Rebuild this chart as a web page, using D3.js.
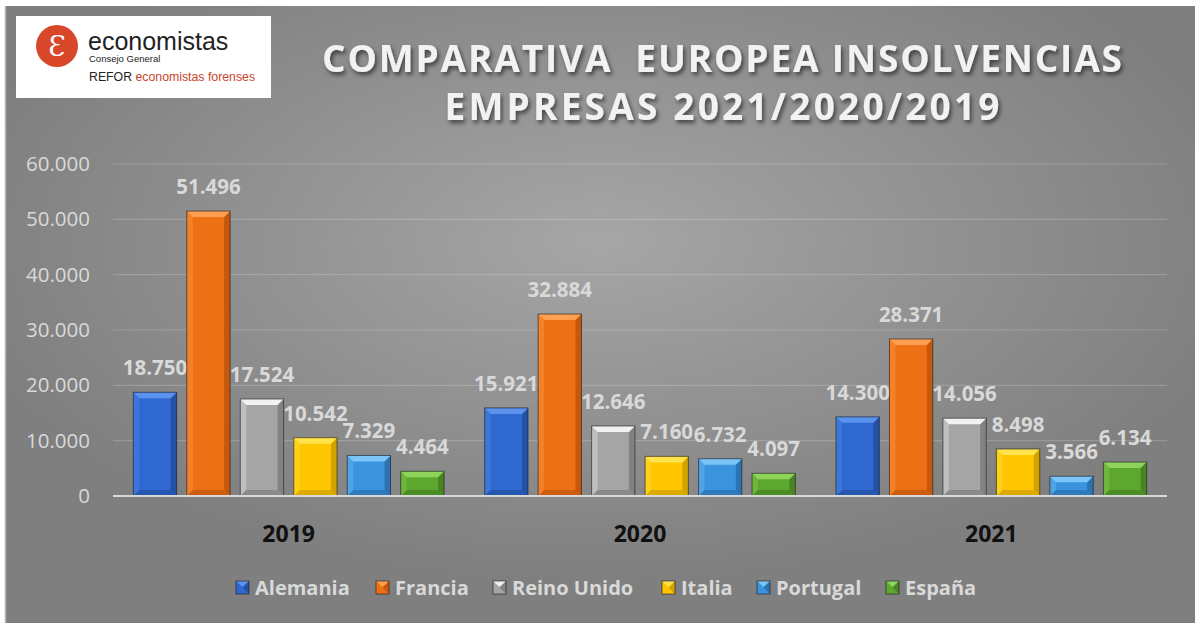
<!DOCTYPE html>
<html>
<head>
<meta charset="utf-8">
<script src="https://cdn.jsdelivr.net/npm/d3@7"></script>
<style>
  body { margin: 0; background: #fff; }
  svg { display: block; }
</style>
</head>
<body>
<div id="chart"></div>
<script>
// data
var years = ["2019", "2020", "2021"];
var countries = ["Alemania", "Francia", "Reino Unido", "Italia", "Portugal", "España"];
var alemania = [18750, 15921, 14300];
var francia = [51496, 32884, 28371];
var reino_unido = [17524, 12646, 14056];
var italia = [10542, 7160, 8498];
var portugal = [7329, 6732, 3566];
var espana = [4464, 4097, 6134];
var y_ticks = [0, 10000, 20000, 30000, 40000, 50000, 60000];

var series = [alemania, francia, reino_unido, italia, portugal, espana];

// colours: base, light (top bevel), dark (side bevel)
var bar_colors = [
    {base: "#2f68cf", light: "#5a92ee", dark: "#1d438a"},
    {base: "#ee7015", light: "#ffa050", dark: "#a94808"},
    {base: "#a5a5a5", light: "#f2f2f2", dark: "#6a6a6a"},
    {base: "#ffc600", light: "#ffe34d", dark: "#b48a00"},
    {base: "#3a93dc", light: "#7cc5f7", dark: "#215d92"},
    {base: "#5ea72f", light: "#8fd35a", dark: "#3a6e1b"}
];

var width = 1195;
var height = 623;

var svg = d3.select("#chart")
            .append("svg")
            .attr("width", width)
            .attr("height", height);

var defs = svg.append("defs");

var bg_grad = defs.append("radialGradient")
    .attr("id", "bg")
    .attr("cx", "50%").attr("cy", "38%").attr("r", "55%");
bg_grad.append("stop").attr("offset", "0%").attr("stop-color", "#a6a6a6");
bg_grad.append("stop").attr("offset", "100%").attr("stop-color", "#7f7f7f");

var shadow = defs.append("filter").attr("id", "shadow")
    .attr("x", "-5%").attr("y", "-20%").attr("width", "110%").attr("height", "150%");
shadow.append("feDropShadow")
    .attr("dx", 2).attr("dy", 3).attr("stdDeviation", 2)
    .attr("flood-color", "#000").attr("flood-opacity", 0.55);

// background
svg.append("rect")
    .attr("x", 5).attr("y", 6)
    .attr("width", width - 5).attr("height", height - 6)
    .attr("fill", "#7f7f7f");
svg.append("rect")
    .attr("x", 5).attr("y", 6)
    .attr("width", width - 5).attr("height", height - 6)
    .attr("fill", "url(#bg)");
svg.append("line")
    .attr("x1", 5.5).attr("x2", 5.5).attr("y1", 6).attr("y2", height)
    .attr("stroke", "#b5b5b5").attr("stroke-width", 1.5);

// logo
var logo = svg.append("g");
logo.append("rect")
    .attr("x", 16).attr("y", 16).attr("width", 255).attr("height", 82)
    .attr("fill", "#fff");
logo.append("circle")
    .attr("cx", 57).attr("cy", 46).attr("r", 21)
    .attr("fill", "#d9472b");
logo.append("text")
    .attr("x", 57).attr("y", 56)
    .attr("text-anchor", "middle")
    .attr("font-family", "DejaVu Serif")
    .attr("font-size", 28)
    .attr("fill", "#fff")
    .text("Ɛ");
logo.append("text")
    .attr("x", 88).attr("y", 50)
    .attr("font-family", "Liberation Sans")
    .attr("font-size", 25)
    .attr("fill", "#222")
    .text("economistas");
logo.append("text")
    .attr("x", 89).attr("y", 62)
    .attr("font-family", "Liberation Sans")
    .attr("font-size", 9.5)
    .attr("fill", "#222")
    .text("Consejo General");
var refor = logo.append("text")
    .attr("x", 89).attr("y", 81)
    .attr("font-family", "Liberation Sans")
    .attr("font-size", 12.3)
    .attr("fill", "#222");
refor.append("tspan").text("REFOR ");
refor.append("tspan").attr("fill", "#c8452e").text("economistas forenses");

// title
var title_lines = ["COMPARATIVA  EUROPEA INSOLVENCIAS", "EMPRESAS 2021/2020/2019"];
var title_widths = [800, 555];
svg.selectAll(".title")
    .data(title_lines)
    .enter()
    .append("text")
    .attr("class", "title")
    .attr("x", 722)
    .attr("y", function(d, i){ return 72 + i * 48; })
    .attr("text-anchor", "middle")
    .attr("font-family", "Open Sans")
    .attr("font-weight", "bold")
    .attr("font-size", 37)
    .attr("fill", "#f2f2f2")
    .attr("textLength", function(d, i){ return title_widths[i]; })
    .attr("lengthAdjust", "spacing")
    .attr("filter", "url(#shadow)")
    .style("white-space", "pre")
    .text(function(d){ return d; });

// scales
var x0 = d3.scaleBand()
    .domain(years)
    .range([113, 1167]);
var x1 = d3.scaleBand()
    .domain(d3.range(countries.length))
    .range([0, x0.bandwidth()])
    .paddingInner(0.19)
    .paddingOuter(0.38);
var y = d3.scaleLinear()
    .domain([0, 60000])
    .range([496, 164]);

var locale = d3.formatLocale({decimal: ",", thousands: ".", grouping: [3], currency: ["", "€"]});
var fmt = locale.format(",d");

// gridlines
svg.selectAll(".grid")
    .data(y_ticks.slice(1))
    .enter()
    .append("line")
    .attr("x1", 113).attr("x2", 1167)
    .attr("y1", function(d){ return y(d); })
    .attr("y2", function(d){ return y(d); })
    .attr("stroke", "#ffffff")
    .attr("stroke-opacity", 0.18)
    .attr("stroke-width", 1.2);

// y axis labels
var y_axis = svg.append("g")
    .attr("transform", "translate(90,0)")
    .call(d3.axisLeft(y).tickValues(y_ticks).tickFormat(fmt).tickSize(0).tickPadding(0));
y_axis.select(".domain").remove();
y_axis.selectAll("text")
    .attr("font-family", "Open Sans")
    .attr("font-size", 20.5)
    .attr("fill", "#d9d9d9");

// bars
var bevel = 6;
function bar_parts(x, top, w, bottom) {
    var b = Math.min(bevel, (bottom - top) / 2, w / 2);
    var r = x + w;
    return {
        top: [[x, top], [r, top], [r - b, top + b], [x + b, top + b]],
        left: [[x, top], [x + b, top + b], [x + b, bottom - b], [x, bottom]],
        right: [[r, top], [r, bottom], [r - b, bottom - b], [r - b, top + b]],
        bottom: [[x, bottom], [x + b, bottom - b], [r - b, bottom - b], [r, bottom]]
    };
}

var groups = svg.selectAll(".year")
    .data(years)
    .enter()
    .append("g")
    .attr("class", "year")
    .attr("transform", function(d){ return "translate(" + x0(d) + ",0)"; });

var bars = groups.selectAll(".bar")
    .data(function(d, yi){
        return series.map(function(s, ci){ return {ci: ci, value: s[yi]}; });
    })
    .enter()
    .append("g")
    .attr("class", "bar");

bars.each(function(d){
    var g = d3.select(this);
    var c = bar_colors[d.ci];
    var x = x1(d.ci), w = x1.bandwidth();
    var top = y(d.value), bottom = y(0);
    var p = bar_parts(x, top, w, bottom);
    g.append("rect")
        .attr("x", x).attr("y", top)
        .attr("width", w).attr("height", bottom - top)
        .attr("fill", c.base);
    g.append("polygon").attr("points", p.left.join(" ")).attr("fill", c.light).attr("opacity", 0.35);
    g.append("polygon").attr("points", p.right.join(" ")).attr("fill", c.dark).attr("opacity", 0.6);
    g.append("polygon").attr("points", p.bottom.join(" ")).attr("fill", c.dark).attr("opacity", 0.45);
    g.append("polygon").attr("points", p.top.join(" ")).attr("fill", c.light);
    g.append("rect")
        .attr("x", x).attr("y", top)
        .attr("width", w).attr("height", bottom - top)
        .attr("fill", "none")
        .attr("stroke", "#1a1a1a").attr("stroke-opacity", 0.6).attr("stroke-width", 1);
});

// baseline
svg.append("line")
    .attr("x1", 113).attr("x2", 1167)
    .attr("y1", y(0)).attr("y2", y(0))
    .attr("stroke", "#d9d9d9").attr("stroke-width", 2);

// value labels
bars.append("text")
    .attr("x", function(d){ return x1(d.ci) + x1.bandwidth() / 2; })
    .attr("y", function(d){ return y(d.value) - 17; })
    .attr("text-anchor", "middle")
    .attr("font-family", "Open Sans")
    .attr("font-weight", "bold")
    .attr("font-size", 20.5)
    .attr("fill", "#d9d9d9")
    .text(function(d){ return fmt(d.value); });

// category labels
svg.selectAll(".cat")
    .data(years)
    .enter()
    .append("text")
    .attr("class", "cat")
    .attr("x", function(d){ return x0(d) + x0.bandwidth() / 2; })
    .attr("y", 542)
    .attr("text-anchor", "middle")
    .attr("font-family", "Open Sans")
    .attr("font-weight", "bold")
    .attr("font-size", 23)
    .attr("fill", "#111")
    .text(function(d){ return d; });

// legend
var legend_x = [236, 376, 493, 662, 757, 886];
var legend = svg.selectAll(".legend")
    .data(countries)
    .enter()
    .append("g")
    .attr("class", "legend")
    .attr("transform", function(d, i){ return "translate(" + legend_x[i] + ",581)"; });

legend.each(function(d, i){
    var g = d3.select(this);
    var c = bar_colors[i];
    g.append("rect").attr("width", 13).attr("height", 13).attr("fill", c.base);
    g.append("polygon").attr("points", bar_parts(0, 0, 13, 13).right.join(" ")).attr("fill", c.dark).attr("opacity", 0.6);
    g.append("polygon").attr("points", [[0, 0], [13, 0], [6.5, 6]].join(" ")).attr("fill", c.light);
    g.append("rect").attr("width", 13).attr("height", 13).attr("fill", "none")
        .attr("stroke", "#1a1a1a").attr("stroke-opacity", 0.6);
});

legend.append("text")
    .attr("x", 19)
    .attr("y", 13.5)
    .attr("font-family", "Open Sans")
    .attr("font-weight", "bold")
    .attr("font-size", 20)
    .attr("fill", "#d9d9d9")
    .text(function(d){ return d; });
</script>
</body>
</html>
